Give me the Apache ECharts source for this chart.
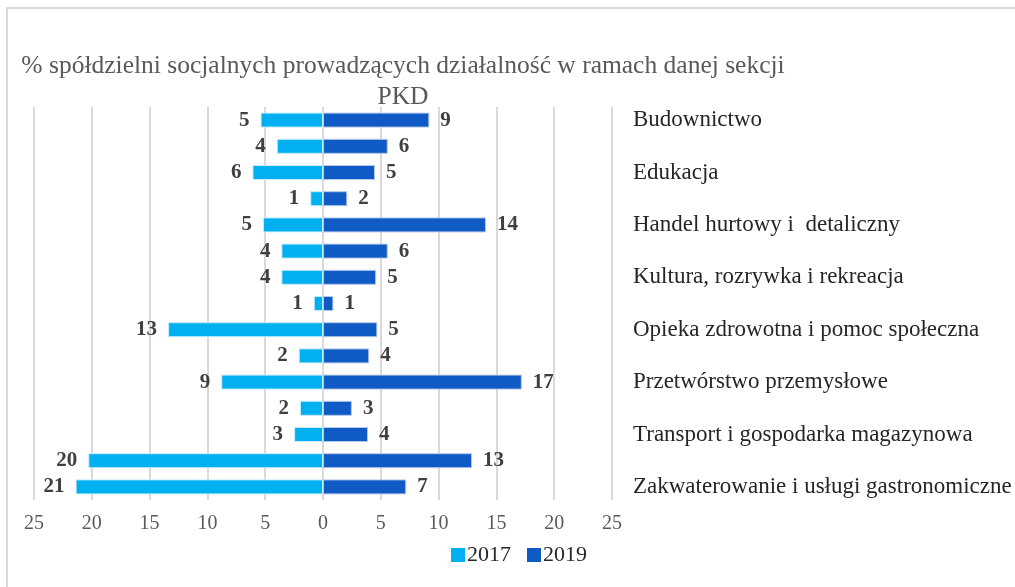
<!DOCTYPE html>
<html>
<head>
<meta charset="utf-8">
<script src="https://cdn.jsdelivr.net/npm/echarts@6/dist/echarts.min.js"></script>
<style>
  html, body { margin: 0; padding: 0; background: #fff; }
  #chart { width: 1015px; height: 587px; }
</style>
</head>
<body>
<div id="chart"></div>
<script>
// sekcje PKD (co druga etykieta jest ukryta, jak w oryginale)
var categories = [
    'Budownictwo',
    'Działalność profesjonalna, naukowa i techniczna',
    'Edukacja',
    'Górnictwo i wydobywanie',
    'Handel hurtowy i  detaliczny',
    'Informacja i komunikacja',
    'Kultura, rozrywka i rekreacja',
    'Obsługa rynku nieruchomości',
    'Opieka zdrowotna i pomoc społeczna',
    'Pozostała działalność usługowa',
    'Przetwórstwo przemysłowe',
    'Rolnictwo, leśnictwo, łowiectwo i rybactwo',
    'Transport i gospodarka magazynowa',
    'Usługi administrowania i działalność wspierająca',
    'Zakwaterowanie i usługi gastronomiczne'
];
var values2017 = [5.4, 4.0, 6.1, 1.1, 5.2, 3.6, 3.6, 0.8, 13.4, 2.1, 8.8, 2.0, 2.5, 20.3, 21.4];
var values2019 = [9.2, 5.6, 4.5, 2.1, 14.1, 5.6, 4.6, 0.9, 4.7, 4.0, 17.2, 2.5, 3.9, 12.9, 7.2];
var xTicks = [-25, -20, -15, -10, -5, 0, 5, 10, 15, 20, 25];

var serif = '"Liberation Serif", "DejaVu Serif", serif';

var chart = echarts.init(document.getElementById('chart'));

var labelStyle = {
    show: true,
    fontFamily: serif,
    fontWeight: 'bold',
    fontSize: 21,
    color: '#404040',
    distance: 11,
    formatter: function (p) { return Math.round(Math.abs(p.value)); }
};

var option = {
    animation: false,
    title: {
        text: '% spółdzielni socjalnych prowadzących działalność w ramach danej sekcji\nPKD',
        left: 398,
        textAlign: 'center',
        top: 46,
        textStyle: {
            fontFamily: serif,
            fontWeight: 'normal',
            fontSize: 25.5,
            color: '#595959',
            lineHeight: 31
        }
    },
    graphic: [{
        type: 'rect',
        shape: { x: 7, y: 8, width: 1100, height: 700 },
        style: { fill: 'none', stroke: '#d9d9d9', lineWidth: 2 }
    }],
    legend: {
        data: ['2017', '2019'],
        bottom: 16,
        left: 446,
        itemWidth: 14,
        itemHeight: 14,
        itemGap: 16,
        icon: 'rect',
        itemStyle: { borderWidth: 0 },
        textStyle: { fontFamily: serif, fontSize: 22, color: '#262626', padding: [0, 0, 0, -3] }
    },
    grid: { left: 34, right: 403, top: 107, bottom: 87 },
    xAxis: {
        type: 'value',
        min: -25,
        max: 25,
        interval: 5,
        axisLine: { show: false },
        axisTick: { show: false },
        splitLine: { lineStyle: { color: '#d9d9d9', width: 2 } },
        axisLabel: {
            fontFamily: serif,
            fontSize: 20,
            color: '#595959',
            margin: 14,
            formatter: function (v) { return xTicks.indexOf(v) >= 0 ? Math.abs(v) : ''; }
        }
    },
    yAxis: {
        type: 'category',
        data: categories,
        inverse: true,
        position: 'right',
        axisLine: { show: false },
        axisTick: { show: false },
        axisLabel: {
            interval: 1,
            margin: 21,
            fontFamily: serif,
            fontSize: 23,
            color: '#262626'
        }
    },
    series: [{
        name: '2017',
        type: 'bar',
        stack: 'all',
        barWidth: 15,
        itemStyle: { color: '#00B0F0', borderColor: '#c8ecfb', borderWidth: 1 },
        label: Object.assign({ position: 'left' }, labelStyle),
        data: values2017.map(function (v) { return -v; })
    }, {
        name: '2019',
        type: 'bar',
        stack: 'all',
        barWidth: 15,
        itemStyle: { color: '#0F5AC4', borderColor: '#b7c9ea', borderWidth: 1 },
        label: Object.assign({ position: 'right' }, labelStyle),
        data: values2019
    }]
};

chart.setOption(option);
</script>
</body>
</html>
